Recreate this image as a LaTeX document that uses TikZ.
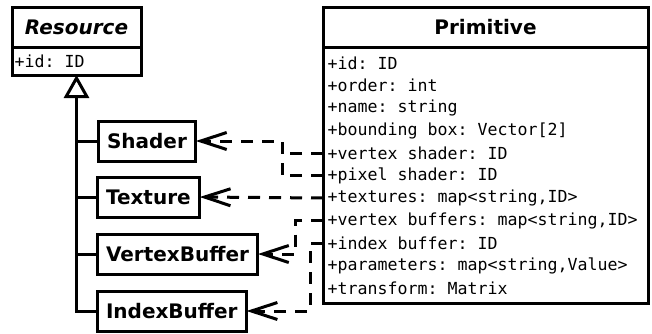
\documentclass[tikz,border=0pt]{standalone}
\usepackage{fontspec}
\setmainfont{DejaVu Sans}[BoldItalicFont={DejaVu Sans Bold Oblique}]
\setmonofont{DejaVu Sans Mono}
\usetikzlibrary{arrows.meta}
\tikzset{
  lw/.style={line width=3pt},
  head/.style={draw, lw, outer sep=0pt, inner sep=0pt, anchor=north west, minimum height=40pt, font=\fontsize{20}{24}\selectfont\bfseries},
  body/.style={draw, lw, outer sep=0pt, inner sep=0pt, anchor=north west},
  subcls/.style={draw, lw, outer sep=0pt, inner xsep=9pt, inner ysep=0pt, anchor=west, minimum height=40pt, font=\fontsize{20}{24}\selectfont\bfseries},
  attr/.style={anchor=west, inner sep=0pt, font=\fontsize{16.6}{20}\selectfont\ttfamily},
  dep/.style={lw, dash pattern=on 12pt off 9pt},
  uses/.style={dep, -{Straight Barb[length=26pt,width=17pt]}},
  isa/.style={lw, -{Triangle[open,length=23pt,width=25pt]}}
}
\begin{document}
\begin{tikzpicture}[x=1pt, y=-1pt]
  \useasboundingbox (0,0) rectangle (652,333);
  % Resource
  \node[head, minimum width=129pt] (res) at (12,7) {\textit{Resource}};
  \node[body, minimum width=129pt, minimum height=28pt] (rattr) at (12,47) {};
  \node[attr] (r1) at (14.5,61) {+id: ID};
  % Primitive
  \node[head, minimum width=325pt] (prim) at (323,7) {Primitive};
  \node[body, minimum width=325pt, minimum height=256pt] (pattr) at (323,47) {};
  \foreach \txt [count=\i] in {{+id: ID},{+order: int},{+name: string},{+bounding box: Vector[2]},
      {+vertex shader: ID},{+pixel shader: ID},{+textures: map<string,ID>},
      {+vertex buffers: map<string,ID>},{+index buffer: ID},
      {+parameters: map<string,Value>},{+transform: Matrix}}
    \node[attr] (p\i) at (327.5,40.5+22.5*\i) {\txt};
  % subclasses
  \node[subcls] (shader) at (98,141) {Shader};
  \node[subcls] (tex) at (97,197) {Texture};
  \node[subcls] (vbuf) at (97,254) {VertexBuffer};
  \node[subcls] (ibuf) at (97,311) {IndexBuffer};
  \draw[isa] (ibuf.west) -| (rattr.south);
  \foreach \n in {shader,tex,vbuf}
    \draw[lw] (\n.west) -- (\n.west -| rattr.south);
  % references
  \draw[dep] (p5.west -| pattr.west) -- ++(-41,0);
  \draw[uses] (p6.west -| pattr.west) -- ++(-41,0) |- (shader.east);
  \draw[uses] (p7.west -| pattr.west) -- (tex.east);
  \draw[uses] (p8.west -| pattr.west) -- ++(-28,0) |- (vbuf.east);
  \draw[uses] (p9.west -| pattr.west) -- ++(-13,0) |- (ibuf.east);
\end{tikzpicture}
\end{document}
